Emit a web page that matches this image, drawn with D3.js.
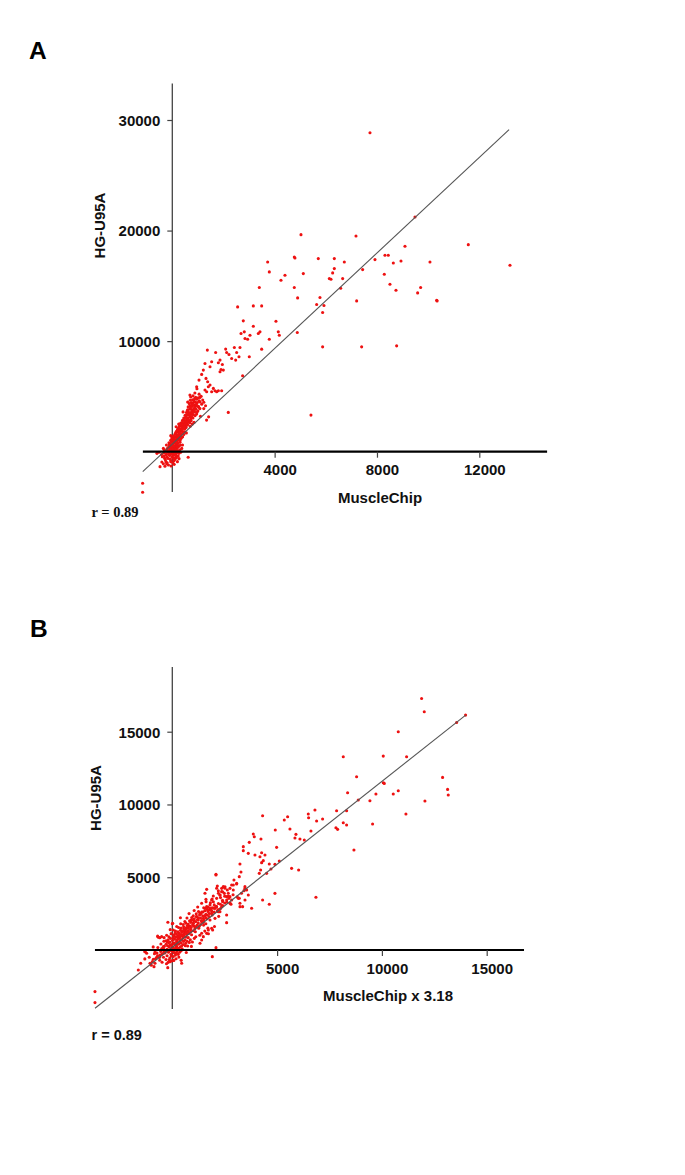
<!DOCTYPE html>
<html><head><meta charset="utf-8">
<script src="https://cdn.jsdelivr.net/npm/d3@7"></script>
<style>body{margin:0;background:#fff}text{font-family:"Liberation Sans",Arial,sans-serif;font-weight:bold}</style>
</head><body><svg id="c" width="685" height="1175"></svg>
<script>
// ---------- Panel A data (MuscleChip vs HG-U95A) ----------
const aTicksX = [4000, 8000, 12000];
const aTicksY = [10000, 20000, 30000];
const aExtentX = [-1150, 14650];
const aExtentY = [-3650, 33300];
const aLine = [[-1156, -1807], [13164, 29124]];
const aOutliers = [
 [7727,28846],[9486,21228],[5030,19632],[7180,19512],[11570,18728],[9095,18578],[13199,16862],
 [3727,17163],[4769,17615],[4795,17524],[5707,17464],[6333,17464],[6724,17163],[7922,17374],
 [8313,17765],[8443,17765],[8639,17072],[8939,17253],[10072,17163],[3792,16260],[4404,15958],
 [4248,15507],[5121,16109],[6333,16561],[6268,16170],[6138,15657],[6203,15597],[6659,15657],
 [7440,16471],[8287,16049],[8508,15146],[8743,14604],[9707,14844],[9590,14362],[10333,13700],
 [10350,13640],[3401,14844],[4769,14844],[4899,13911],[6581,14784],[5772,13941],[5642,13309],
 [5928,13218],[5876,12586],[7206,13640],[2554,13098],[3167,13188],[3493,13188],[2775,11833],
 [4052,11803],[3167,11352],[3036,10538],[3362,10689],[3427,10840],[2814,10840],[2945,10177],
 [3792,10177],[4143,10840],[4183,10538],[4886,10779],[5876,9485],[7401,9485],[8769,9575],
 [3493,9274],[3010,8581],[5420,3312],[2189,3553],[2749,6865],[2842,10241],[2686,10693],
 [-1160,-2860],[-1160,-3673]
];
const aCluster = [
 [1370,9187],[1695,8976],[2086,9278],[2125,8976],[2216,8796],[2425,9428],[2646,9428],[2516,8976],
 [2607,8585],[2477,8284],[2321,8434],[1865,8284],[1800,8043],[1956,7892],[1904,7441],[1995,7381],
 [1865,7230],[1539,8133],[1474,7682],[1278,7983],[1213,7381],[1148,6989],[1317,6628],[1383,6327],
 [1409,5875],[1474,6026],[1604,5724],[1669,5513],[1734,5423],[1539,5423],[1343,5423],[1278,5574],
 [1044,6477],[953,5875],[913,4911],[1083,4911],[1800,5513],[1930,5513]
];
const aCore = [
 [-480,-1350],[-350,-1100],[-250,-900],[-150,-1200],[-60,-800],[20,-1000],[100,-700],[-300,-600],
 [-200,-500],[-100,-350],[0,-450],[80,-300],[160,-550],[230,-400],[-420,-250],[-330,-120],
 [-230,-200],[-130,-80],[-40,-180],[50,-100],[140,-220],[260,-150],[330,-50],[620,-500],
 [-520,-50],[-600,-150],[-80,-650],[40,-600],[200,-900],[-200,-1000],
 [-280,50],[-200,150],[-120,100],[-50,250],[20,120],[90,60],[160,200],[230,80],[300,180],
 [-150,400],[-60,500],[30,380],[110,450],[190,350],[260,500],[-230,600],[-100,700],[0,650],
 [80,800],[150,620],[220,750],[300,850],[-40,900],[50,950],[130,900],[200,980],[370,300],
 [400,600],[-350,300],[-10,30],[60,300],[120,250],[-90,300],[10,780],[170,520],
 [20,1100],[100,1050],[180,1150],[260,1080],[340,1200],[60,1300],[140,1350],[220,1280],
 [300,1400],[400,1350],[100,1550],[180,1500],[260,1600],[350,1650],[450,1550],[150,1800],
 [230,1750],[310,1850],[390,1900],[480,1800],[-60,1450],[-20,1250],[550,1700],[280,1950],[200,1950],
 [220,2100],[300,2050],[380,2150],[460,2100],[540,2200],[280,2350],[360,2300],[440,2400],
 [520,2350],[600,2450],[330,2600],[410,2550],[490,2650],[570,2600],[650,2700],[400,2850],
 [480,2800],[560,2900],[640,2850],[720,2950],[250,2500],[700,2300],[150,2250],[850,2650],[780,2500],
 [450,3050],[530,3100],[610,3050],[690,3150],[770,3100],[500,3300],[580,3350],[660,3300],
 [740,3400],[820,3350],[550,3550],[630,3600],[710,3550],[790,3650],[870,3600],[600,3800],
 [680,3850],[760,3800],[840,3900],[920,3850],[1000,3700],[1080,3900],[950,3400],[420,3600],[1100,3200],
 [620,4050],[700,4150],[780,4100],[860,4200],[940,4150],[1020,4100],[660,4350],[740,4450],
 [820,4400],[900,4500],[980,4450],[700,4650],[790,4700],[870,4800],[950,4750],[1050,4600],
 [720,4950],[810,5050],[600,4500],[1150,4300],[1300,4150],[1230,3900],[1420,3150],[1340,2860],[690,5120]
];
const aCoreExtra = [
 [-137,-263],[-58,-912],[73,-1143],[-271,-731],[-388,-452],[-12,-127],[113,-584],[187,-72],[-166,-38],
 [37,-311],[-317,-388],[-221,-1108],[-409,-934],[264,-627],[-47,-1289],[94,193],[-23,427],[-197,287],
 [48,571],[139,732],[-131,813],[211,401],[318,612],[-64,1032],[82,1188],[167,1046],[253,1267],[39,1421],
 [124,1678],[211,1432],[327,1559],[428,1731],[276,1712],[187,1893],[368,2012],[263,2217],[451,2281],
 [332,2433],[512,2518],[397,2689],[583,2744],[467,2963],[614,2911],[538,3182],[713,3236],[647,3447],
 [782,3518],[583,3703],[853,3711],[714,3962],[893,4034],[767,4283],[943,4302],[842,4588],[1012,4871],
 [-287,-1311],[-312,164],[-89,163],[158,-412],[-242,-309],[7,-217],[96,-32],[201,567],[-113,612],
 [12,233],[67,-812],[-166,-613],[305,1023],[378,1311],[487,2047],[562,2392],[681,2612],[739,2806],
 [808,3047],[891,3263],[963,3559],[1033,4011],[1086,4492],[1189,4673],[1127,5012],[883,5312],
 [963,5689],[1048,5203],[1231,4466]
];

// ---------- Panel B data (MuscleChip x 3.18 vs HG-U95A) ----------
const bTicksX = [5000, 10000, 15000];
const bTicksY = [5000, 10000, 15000];
const bExtentX = [-3690, 16780];
const bExtentY = [-4050, 19440];
const bLine = [[-3688, -4004], [13998, 16140]];
const bOutliers = [
 [11894,17285],[12021,16370],[13992,16141],[13563,15637],[10781,14996],[8157,13280],[10065,13325],
 [11178,13280],[8793,11906],[12895,11860],[10065,11494],[10113,11448],[13134,11036],[13166,10647],
 [10781,10945],[10542,10716],[9715,10716],[9429,10258],[8872,10304],[12053,10235],[11146,9342],
 [9556,8656],[8364,10807],[8316,9571],[7839,9571],[6806,9617],[6488,9342],[6503,9091],[6885,8862],
 [7171,9000],[7807,8404],[7887,8289],[8157,8747],[8316,8587],[8666,6870],[6853,3620],[4309,9228],
 [5502,9160],[5343,8931],[4913,8244],[5613,8312],[5899,7946],[6615,8175],[6297,7557],[6090,7626],
 [5852,7695],[3864,7969],[3912,7786],[4230,7626],[3673,7397],[3387,7100],[3387,6825],[3626,6641],
 [3944,6527],[4262,6687],[4421,6527],[4182,6412],[4341,6138],[4262,6001],[4627,5909],[4897,5886],
 [5104,6115],[4977,7054],[5692,5611],[6027,5497],[4214,5497],[4150,5268],[4500,5268],[4707,5566],
 [3228,5909],[3276,5360],[3196,5039],[2942,4810],[3069,4535],[3467,4352],[3514,4169],[3419,4078],
 [4309,3437],[4627,3139],[4897,3894],[3784,2865],[3355,2980],[3626,3780],[2910,4124],[2831,4467],
 [2672,3895],[2592,3666],[2083,5153],[2115,4238],[2433,4352],[2512,4238],[2353,4009],[2274,3780],
 [2751,3666],[2831,3437],[3196,3551],[3228,3208],[1956,3711],[1877,3437],[1638,2980],[1606,3483],
 [1400,3208],[1559,3895],[1797,2865],[2115,2980],[2274,2636],[2592,2407],[2592,1880],[1924,1377],
 [2084,161],[1909,-457],[-3689,-2858],[-3689,-3614],[-1304,-111],[-1621,-1373]
];
const bMid = [
 [2084,5197],[1639,4167],[2148,4396],[2196,4075],[2355,4236],[2514,4350],[2625,4121],[2752,4236],
 [2911,4465],[3070,4579],[2482,3892],[2275,3778],[2673,3709],[2593,3434],[2402,3320],[2752,3206],
 [2116,3549],[1957,3320],[1798,3091],[1560,2862],[1767,2748],[2037,2862],[2196,2633],[1878,2519],
 [1671,2404],[1480,2175],[1401,1947],[1242,2061],[1162,2290],[1321,2519],[1003,1832],[924,2061],
 [1083,1603],[844,1649],[685,1489],[606,1260],[765,1145],[526,1031],[367,917],[447,688],[208,573],
 [288,802],[49,459],[176,230],[-31,116],[-110,344],[-269,1],[-190,-114],[-428,-228],[-587,-343],
 [-746,-503],[-905,-640],[-1064,-915],[-1223,-228],[-1303,-114],[-667,871],[-508,917],[17,1832],
 [49,1374],[-237,573],[-428,230],[-873,-1144],[-826,-915],[-110,-800],[49,-686],[447,-915],
 [1321,459],[1401,688],[1639,1145],[1719,1374],[1878,1489],[1480,917],[1798,2061],[2037,2175],
 [2355,2977],[3229,2977],[3468,3434],[3150,3549],[3547,4121],[3468,4236]
];
const bCore = [
 [-950,-800],[-800,-600],[-700,-400],[-600,-700],[-500,-300],[-420,-500],[-350,-200],[-300,-650],
 [-250,-400],[-180,-150],[-120,-550],[-60,-300],[0,-100],[50,-450],[100,-200],[150,-350],[220,-100],
 [280,-300],[350,-150],[-550,-100],[-400,-50],[-250,-80],[-100,-30],[60,-50],[180,-600],[-30,-750],
 [420,-50],[-850,-250],[-1100,-500],[-200,-850],
 [-500,100],[-380,250],[-250,50],[-150,200],[-50,80],[40,180],[120,60],[200,250],[290,120],[380,200],
 [470,80],[-300,400],[-180,500],[-70,350],[30,450],[130,380],[220,520],[320,420],[420,500],[520,380],
 [620,300],[-200,700],[-90,800],[10,650],[110,750],[210,680],[310,800],[410,720],[510,850],[610,700],
 [710,600],[60,950],[160,900],[260,980],[360,920],[460,980],[560,950],[660,900],[760,850],[860,700],
 [-400,600],[-600,850],[-700,950],[960,550],[1050,800],
 [80,1050],[200,1100],[320,1150],[440,1050],[560,1120],[680,1080],[800,1150],[920,1050],[150,1300],
 [270,1250],[390,1350],[510,1280],[630,1380],[750,1300],[870,1400],[990,1320],[1100,1250],[300,1550],
 [420,1500],[540,1600],[660,1520],[780,1620],[900,1550],[1020,1650],[1140,1580],[1260,1500],[400,1800],
 [520,1750],[640,1850],[760,1780],[880,1900],[1000,1820],[1120,1950],[1240,1850],[1360,1750],
 [1480,1900],[1600,1800],[-100,1400],[0,1800],[600,1950],[1400,1150],[1700,1500],[1550,1300],
 [900,2050],[1050,2150],[1200,2100],[1350,2200],[1500,2050],[1650,2150],[1000,2350],[1150,2300],
 [1300,2400],[1450,2350],[1600,2450],[1750,2300],[1900,2400],[1250,2650],[1400,2600],[1550,2700],
 [1700,2650],[1850,2750],[2000,2600],[2150,2700],[1500,2900],[1700,2950],[1900,2900],[2100,2950],
 [2300,2850],[700,2200],[800,2500],
 [2000,3100],[2200,3200],[2400,3050],[2600,3300],[2800,3150],[2300,3600],[2500,3700],[2700,3550],
 [2900,3800],[3100,3650],[2200,3900],[2400,4000],[3300,3900],[1900,3500]
];
const bCoreExtra = [
 [-733,-212],[-612,-511],[-487,-843],[-361,-132],[-277,-942],[-143,-673],[-47,-412],[74,-723],
 [187,-218],[313,-488],[-689,176],[-544,412],[-412,73],[-301,628],[-227,287],[-118,552],[-22,293],
 [93,471],[173,137],[248,402],[347,612],[448,287],[537,593],[641,467],[733,271],[812,523],[-391,847],
 [-271,1013],[-163,913],[-57,1123],[47,812],[137,1187],[243,887],[348,1073],[452,1213],[557,1432],
 [663,1211],[768,1487],[873,1263],[967,1712],[1073,1437],[1183,1712],[1287,1633],[1391,2017],
 [1493,1712],[1591,2212],[713,1688],[824,2013],[927,2228],[1031,1987],[1143,2491],[1247,2213],
 [1352,2488],[1456,2611],[1563,2357],[1667,2789],[1772,2511],[1878,2687],[1983,2877],[2087,3011],
 [2193,2788],[2297,3142],[2397,3412],[2503,3227],[1043,2712],[1212,2953],[1817,3236],[1612,3321],
 [-823,-132],[-1311,-612],[-1507,-913],[-912,212],[-1003,-1042],[-217,-1212],[423,-712],[667,-168],
 [912,247],[1121,913],[1313,1011],[1723,1113],[2012,1613],[2214,2311],[387,2212],[212,1612],[-211,1911]
];

const svg = d3.select("#c");
const RED = "#ee1111";

function panel(o) {
  const x = d3.scaleLinear().domain(o.xDom).range(o.xRange);
  const y = d3.scaleLinear().domain(o.yDom).range(o.yRange);
  const g = svg.append("g");
  g.append("line").attr("x1", x(0)).attr("x2", x(0))
    .attr("y1", y(o.extY[1])).attr("y2", y(o.extY[0]))
    .attr("stroke", "#444").attr("stroke-width", 1.3);
  const ya = d3.axisLeft(y).tickValues(o.ticksY).tickSize(5).tickSizeOuter(0).tickFormat(d3.format("d"));
  const yg = g.append("g").attr("transform", `translate(${x(0)},0)`).call(ya);
  yg.select(".domain").remove();
  yg.selectAll(".tick line").attr("stroke", "#444").attr("stroke-width", 1.2);
  yg.selectAll(".tick text").attr("x", -12).attr("dy", "0.36em")
    .style("font-size", "15px").style("font-weight", "bold").attr("fill", "#111")
    .style("font-family", '"Liberation Sans", Arial, sans-serif');
  g.append("g").selectAll("circle").data(o.points).join("circle")
    .attr("cx", d => x(d[0])).attr("cy", d => y(d[1])).attr("r", 1.55).attr("fill", RED);
  g.append("line").attr("x1", x(o.line[0][0])).attr("y1", y(o.line[0][1]))
    .attr("x2", x(o.line[1][0])).attr("y2", y(o.line[1][1]))
    .attr("stroke", "#555").attr("stroke-width", 1.1);
  g.append("line").attr("x1", x(o.extX[0])).attr("x2", x(o.extX[1]))
    .attr("y1", y(0)).attr("y2", y(0)).attr("stroke", "#000").attr("stroke-width", 2.2);
  const xa = d3.axisBottom(x).tickValues(o.ticksX).tickSize(6).tickSizeOuter(0).tickFormat(d3.format("d"));
  const xg = g.append("g").attr("transform", `translate(0,${y(0)})`).call(xa);
  xg.select(".domain").remove();
  xg.selectAll(".tick line").attr("stroke", "#444").attr("stroke-width", 1.2);
  xg.selectAll(".tick text").attr("y", 13).attr("dx", 5)
    .style("font-size", "15px").style("font-weight", "bold").attr("fill", "#111")
    .style("font-family", '"Liberation Sans", Arial, sans-serif');
  g.append("text").attr("x", o.xLabelPos[0]).attr("y", o.xLabelPos[1]).attr("text-anchor", "middle")
    .style("font-size", "15px").attr("fill", "#111").text(o.xLabel);
  g.append("text").attr("transform", `translate(${o.yLabelPos[0]},${o.yLabelPos[1]}) rotate(-90)`)
    .attr("text-anchor", "middle").style("font-size", "15px").attr("fill", "#111").text("HG-U95A");
  g.append("text").attr("x", o.rPos[0]).attr("y", o.rPos[1])
    .style("font-size", "14.5px").style("font-family", o.rFont).attr("fill", "#111").text("r = 0.89");
  g.append("text").attr("x", o.letterPos[0]).attr("y", o.letterPos[1])
    .style("font-size", "24.5px").attr("fill", "#000").text(o.letter);
}

panel({
  letter: "A", letterPos: [29, 59],
  xDom: [0, 12000], xRange: [172.3, 479.3],
  yDom: [0, 30000], yRange: [451.7, 120],
  extX: aExtentX, extY: aExtentY, ticksX: aTicksX, ticksY: aTicksY,
  points: aOutliers.concat(aCluster, aCore, aCoreExtra), line: aLine,
  xLabel: "MuscleChip", xLabelPos: [380, 503], yLabelPos: [105, 225.5],
  rPos: [91.5, 516.5], rFont: '"Liberation Serif", "Times New Roman", serif'
});
panel({
  letter: "B", letterPos: [30, 637],
  xDom: [0, 15000], xRange: [172.3, 486.7],
  yDom: [0, 15000], yRange: [950, 731.7],
  extX: bExtentX, extY: bExtentY, ticksX: bTicksX, ticksY: bTicksY,
  points: bOutliers.concat(bMid, bCore, bCoreExtra), line: bLine,
  xLabel: "MuscleChip x 3.18", xLabelPos: [388, 1001], yLabelPos: [100.5, 798],
  rPos: [91.5, 1040], rFont: '"Liberation Sans", Arial, sans-serif'
});
</script></body></html>
